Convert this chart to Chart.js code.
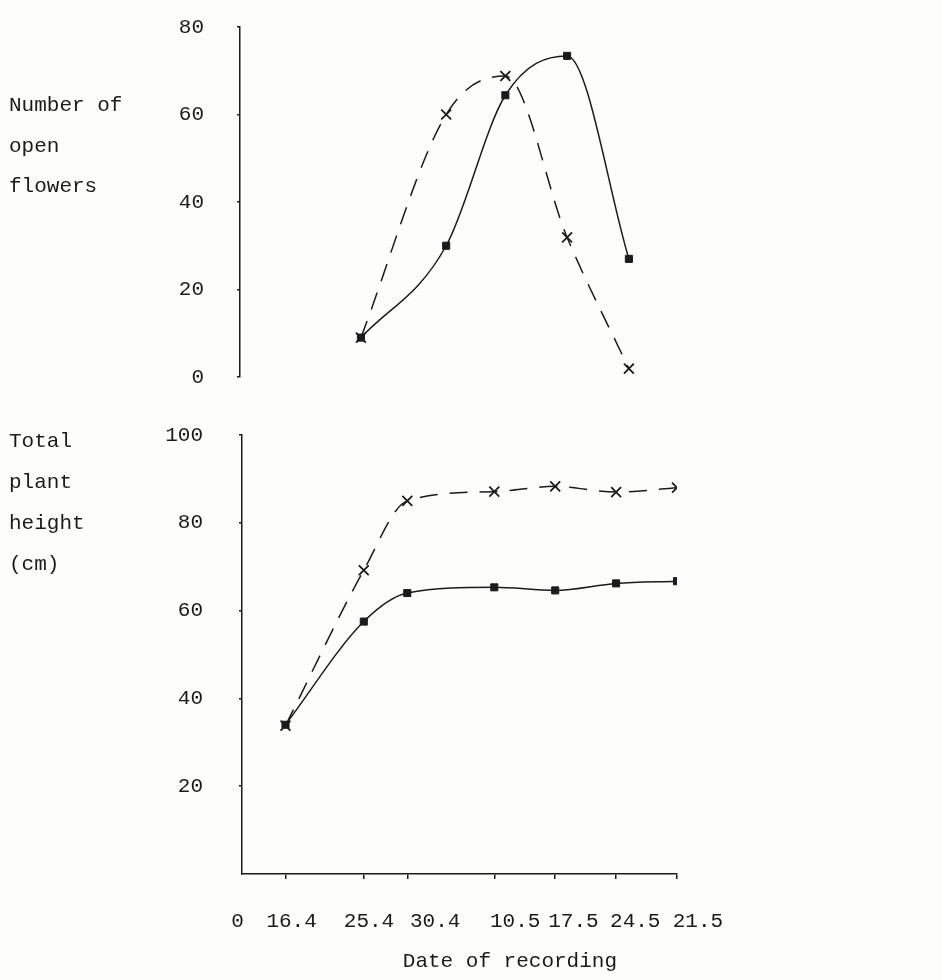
<!DOCTYPE html>
<html>
<head>
<meta charset="utf-8">
<title>Open flowers and plant height</title>
<script src="https://cdn.jsdelivr.net/npm/chart.js@4/dist/chart.umd.min.js"></script>
<style>
    body { margin: 0; background: #fdfdfb; }
    #wrap { position: relative; width: 942px; height: 980px; }
    canvas { position: absolute; left: 0; }
    #flowers { top: 0; }
    #height { top: 400px; }
</style>
</head>
<body>
<div id="wrap">
    <canvas id="flowers" width="942" height="400"></canvas>
    <canvas id="height" width="942" height="580"></canvas>
</div>
<script>
// days counted from the origin of the date axis (16.4 = day 5)
const recordDays = [5, 14, 19, 29, 36, 43, 50];
const recordLabels = ['0', '16.4', '25.4', '30.4', '10.5', '17.5', '24.5', '21.5'];

// top panel: number of open flowers
const flowerDays = [13.9, 23.7, 30.5, 37.6, 44.7];
const flowersSolid = [9, 30, 64.4, 73.4, 27];
const flowersDashed = [9, 60, 68.8, 31.9, 1.9];
const flowerTicks = [0, 20, 40, 60, 80];

// bottom panel: total plant height (cm)
const heightSolid = [34, 57.5, 64, 65.3, 64.6, 66.2, 66.7];
const heightDashed = [33.8, 69.2, 85, 87.1, 88.3, 87, 88];
const heightTicks = [20, 40, 60, 80, 100];

const ink = '#1b1b1b';
Chart.defaults.font.family = '"Liberation Mono", "DejaVu Sans Mono", monospace';
Chart.defaults.font.size = 21;
Chart.defaults.color = ink;

// the typed labels drift a little to the right of their tick marks
const labelShift = [-0.5, 0.7, 0.6, 3.2, 2.4, 2.1, 2.2, 2.4];

function points(xs, ys) {
    return xs.map((x, i) => ({ x: x, y: ys[i] }));
}

function solidSet(data) {
    return {
        data: data,
        borderColor: ink,
        borderWidth: 1.5,
        cubicInterpolationMode: 'monotone',
        pointStyle: 'rect',
        pointRadius: 5,
        pointBackgroundColor: ink,
        pointBorderColor: ink,
        pointBorderWidth: 1
    };
}

function dashedSet(data) {
    return {
        data: data,
        borderColor: ink,
        borderWidth: 1.5,
        borderDash: [18, 12],
        cubicInterpolationMode: 'monotone',
        pointStyle: 'crossRot',
        pointRadius: 7,
        pointBorderColor: ink,
        pointBorderWidth: 1.8
    };
}

// horizontal, multi-line titles typed to the left of each y axis
const sideTitle = {
    id: 'sideTitle',
    afterDraw(chart, args, opts) {
        const ctx = chart.ctx;
        ctx.save();
        ctx.font = '21px "Liberation Mono", "DejaVu Sans Mono", monospace';
        ctx.fillStyle = ink;
        ctx.textBaseline = 'alphabetic';
        opts.lines.forEach((t, i) => ctx.fillText(t, opts.x, opts.y + i * opts.step));
        ctx.restore();
    }
};

function yAxis(min, max, tickList, width, pad) {
    return {
        min: min,
        max: max,
        afterBuildTicks: s => { s.ticks = tickList.map(v => ({ value: v })); },
        afterFit: s => {
            s.width = width;
            // tick padding is meant to be horizontal only
            s.paddingTop = 12;
            s.paddingBottom = 12;
        },
        grid: { drawOnChartArea: false, tickLength: 3, color: ink, lineWidth: 1.5 },
        border: { color: ink, width: 1.5 },
        ticks: { padding: pad, color: ink }
    };
}

new Chart(document.getElementById('flowers'), {
    type: 'line',
    data: {
        datasets: [
            solidSet(points(flowerDays, flowersSolid)),
            dashedSet(points(flowerDays, flowersDashed))
        ]
    },
    options: {
        responsive: false,
        animation: false,
        events: [],
        layout: { padding: { left: 0, top: 27, right: 267, bottom: 23 } },
        plugins: {
            legend: { display: false },
            tooltip: { enabled: false },
            sideTitle: { lines: ['Number of', 'open', 'flowers'], x: 9, y: 111, step: 40.5 }
        },
        scales: {
            x: { type: 'linear', min: 0, max: 50, display: false },
            y: yAxis(0, 80, flowerTicks, 240, 33)
        }
    },
    plugins: [sideTitle]
});

new Chart(document.getElementById('height'), {
    type: 'line',
    data: {
        datasets: [
            solidSet(points(recordDays, heightSolid)),
            dashedSet(points(recordDays, heightDashed))
        ]
    },
    options: {
        responsive: false,
        animation: false,
        events: [],
        layout: { padding: { left: 0, top: 35, right: 265, bottom: 0 } },
        plugins: {
            legend: { display: false },
            tooltip: { enabled: false },
            sideTitle: { lines: ['Total', 'plant', 'height', '(cm)'], x: 9, y: 47, step: 41 }
        },
        scales: {
            x: {
                type: 'linear',
                min: 0,
                max: 50,
                weight: 0,
                afterBuildTicks: s => { s.ticks = recordDays.map(v => ({ value: v })); },
                afterFit: s => { s.height = 5; },
                ticks: { display: false },
                grid: { drawOnChartArea: false, tickLength: 5, color: ink, lineWidth: 1.5 },
                border: { color: ink, width: 1.5 }
            },
            x2: {
                type: 'linear',
                position: 'bottom',
                min: 0,
                max: 50,
                weight: 1,
                afterBuildTicks: s => {
                    s.ticks = [0].concat(recordDays).map((v, i) => ({ value: v + labelShift[i] }));
                },
                afterFit: s => { s.height = 101; },
                grid: { display: false, drawTicks: false },
                border: { display: false },
                ticks: {
                    autoSkip: false,
                    maxRotation: 0,
                    padding: 30,
                    color: ink,
                    callback: (v, i) => recordLabels[i]
                },
                title: {
                    display: true,
                    text: '        Date of recording',
                    color: ink,
                    padding: { top: 0, bottom: 6 }
                }
            },
            y: yAxis(0, 100, heightTicks, 242, 36)
        }
    },
    plugins: [sideTitle]
});
</script>
</body>
</html>
